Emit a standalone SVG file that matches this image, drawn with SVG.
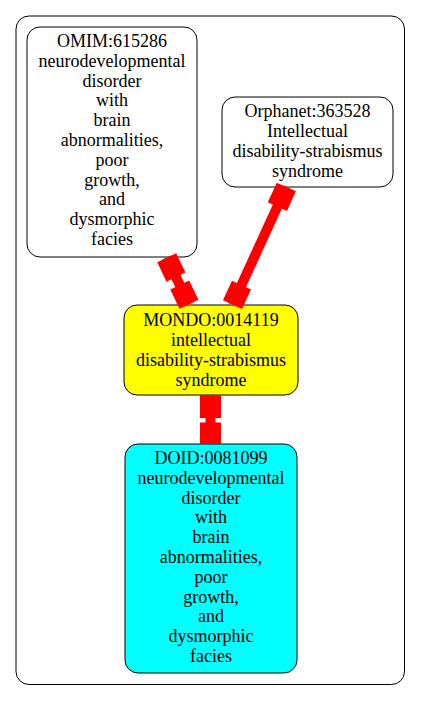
<svg xmlns="http://www.w3.org/2000/svg" width="421" height="701" viewBox="0 0 421 701">
<style>
.node rect{stroke:#000;stroke-width:1}
text{font-family:"Liberation Serif","Times New Roman",serif;font-size:18px;text-anchor:middle;fill:#000}
.edge line{stroke:#f00;stroke-width:10}
.edge rect{fill:#f00}
</style>
<rect width="421" height="701" fill="#fff"/>
<g id="cluster">
<rect x="16" y="16" width="388.5" height="668.5" rx="13" fill="#fff" stroke="#000" stroke-width="1"/>
</g>
<g id="omim" class="node">
<rect x="27" y="27" width="170" height="230" rx="13" fill="#fff"/>
<text x="112" y="47">OMIM:615286</text>
<text x="112" y="66.8">neurodevelopmental</text>
<text x="112" y="86.6">disorder</text>
<text x="112" y="106.4">with</text>
<text x="112" y="126.2">brain</text>
<text x="112" y="146">abnormalities,</text>
<text x="112" y="165.8">poor</text>
<text x="112" y="185.6">growth,</text>
<text x="112" y="205.4">and</text>
<text x="112" y="225.2">dysmorphic</text>
<text x="112" y="245">facies</text>
</g>
<g id="orphanet" class="node">
<rect x="222" y="97" width="171" height="90" rx="13" fill="#fff"/>
<text x="307.5" y="117">Orphanet:363528</text>
<text x="307.5" y="137">Intellectual</text>
<text x="307.5" y="157">disability-strabismus</text>
<text x="307.5" y="177">syndrome</text>
</g>
<g id="mondo" class="node">
<rect x="124" y="305" width="174" height="90" rx="13" fill="#ffff00"/>
<text x="211" y="325.5">MONDO:0014119</text>
<text x="211" y="345.5">intellectual</text>
<text x="211" y="365.5">disability-strabismus</text>
<text x="211" y="385.5">syndrome</text>
</g>
<g id="doid" class="node">
<rect x="125" y="444" width="172" height="229" rx="13" fill="#00ffff"/>
<text x="211" y="464">DOID:0081099</text>
<text x="211" y="483.8">neurodevelopmental</text>
<text x="211" y="503.6">disorder</text>
<text x="211" y="523.4">with</text>
<text x="211" y="543.2">brain</text>
<text x="211" y="563">abnormalities,</text>
<text x="211" y="582.8">poor</text>
<text x="211" y="602.6">growth,</text>
<text x="211" y="622.4">and</text>
<text x="211" y="642.2">dysmorphic</text>
<text x="211" y="662">facies</text>
</g>
<g id="connectors">
<g class="edge" transform="translate(166.7,257.7) rotate(64.43)">
<line x1="0" y1="0" x2="51.7" y2="0"/>
<rect x="0" y="-10.5" width="21.5" height="21"/>
<rect x="30.2" y="-10.5" width="21.5" height="21"/>
</g>
<g class="edge" transform="translate(286.3,187) rotate(114.56)">
<line x1="0" y1="0" x2="129.4" y2="0"/>
<rect x="0" y="-10.5" width="21.5" height="21"/>
<rect x="107.9" y="-10.5" width="21.5" height="21"/>
</g>
<g class="edge" transform="translate(210.5,395) rotate(90)">
<line x1="0" y1="0" x2="49" y2="0"/>
<rect x="0" y="-10.5" width="23" height="21"/>
<rect x="27.5" y="-10.5" width="21.5" height="21"/>
</g>
</g>
</svg>
